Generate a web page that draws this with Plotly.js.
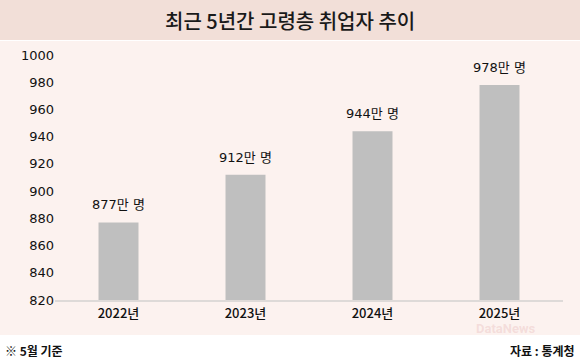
<!DOCTYPE html>
<html><head><meta charset="utf-8">
<script src="https://cdn.plot.ly/plotly-3.0.1.min.js"></script>
<style>html,body{margin:0;padding:0;background:#fff}#c{width:580px;height:364px}</style>
</head><body><div id="c"></div>
<script>
const categories = ['2022년', '2023년', '2024년', '2025년'];
const values = [877, 912, 944, 978];
const valueLabels = ['877만 명', '912만 명', '944만 명', '978만 명'];
const yTicks = [820, 840, 860, 880, 900, 920, 940, 960, 980, 1000];

const font = '"Noto Sans CJK KR", "Noto Sans", sans-serif';
const numFont = '"DejaVu Sans", "Noto Sans CJK KR", sans-serif';
const W = 580, H = 364, L = 55, R = 17, T = 55, B = 64;
const pw = W - L - R, ph = H - T - B;
const px = x => (x - L) / pw;
const py = y => (H - B - y) / ph;

const trace = {
  type: 'bar', x: categories, y: values,
  marker: {color: '#bfbfbf'}, hoverinfo: 'none'
};

const annotations = categories.map((c, i) => ({
  x: c, y: values[i], xref: 'x', yref: 'y', text: valueLabels[i],
  showarrow: false, yanchor: 'bottom', yshift: 8,
  font: {family: numFont, size: 13, color: '#111'}
}));
annotations.push(
  {xref: 'paper', yref: 'paper', x: px(290), y: py(20), text: '최근 5년간 고령층 취업자 추이',
   showarrow: false, xanchor: 'center', yanchor: 'middle', font: {family: font, size: 20, color: '#1a1a1a', weight: 500}},
  {xref: 'paper', yref: 'paper', x: px(3), y: py(350), text: '<b>※ 5월 기준</b>',
   showarrow: false, xanchor: 'left', yanchor: 'middle', font: {family: font, size: 12, color: '#111'}},
  {xref: 'paper', yref: 'paper', x: px(577), y: py(350), text: '<b>자료 : 통계청</b>',
   showarrow: false, xanchor: 'right', yanchor: 'middle', font: {family: font, size: 12, color: '#111'}},
  {xref: 'paper', yref: 'paper', x: px(538), y: py(328), text: '<b>DataNews</b>',
   showarrow: false, xanchor: 'right', yanchor: 'middle', font: {family: 'Roboto, sans-serif', size: 13, color: 'rgba(225,170,170,0.3)'}}
);

const layout = {
  width: W, height: H,
  margin: {l: L, r: R, t: T, b: B},
  paper_bgcolor: '#ffffff', plot_bgcolor: 'rgba(0,0,0,0)',
  showlegend: false, bargap: 0.685,
  xaxis: {
    type: 'category', showgrid: false, zeroline: false,
    showline: true, linecolor: '#dedad8', linewidth: 2,
    ticks: '', tickfont: {family: font, size: 13, color: '#111', weight: 500}
  },
  yaxis: {
    range: [820, 1000], tickvals: yTicks, ticktext: yTicks.map(String),
    showgrid: false, zeroline: false, showline: false, ticks: '',
    tickfont: {family: numFont, size: 13, color: '#111'}
  },
  shapes: [
    {type: 'rect', xref: 'paper', yref: 'paper', layer: 'below',
     x0: px(0), x1: px(580), y0: py(335), y1: py(41), fillcolor: '#fcf2ef', line: {width: 0}},
    {type: 'rect', xref: 'paper', yref: 'paper', layer: 'below',
     x0: px(0), x1: px(580), y0: py(40), y1: py(0), fillcolor: '#f2dfd8', line: {width: 0}}
  ],
  annotations: annotations
};

Plotly.newPlot('c', [trace], layout, {staticPlot: true, displayModeBar: false});
</script></body></html>
